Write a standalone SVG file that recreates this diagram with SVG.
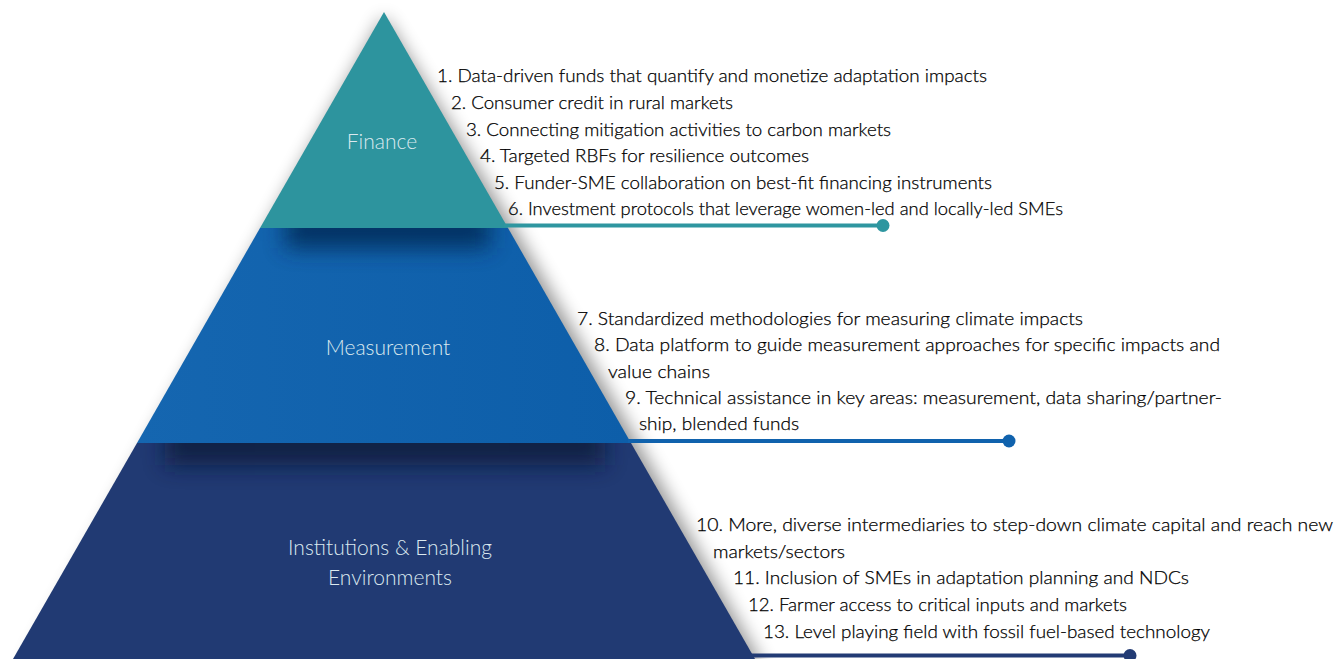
<svg xmlns="http://www.w3.org/2000/svg" width="1334" height="659" viewBox="0 0 1334 659">
<defs>
<style>
.item{font-family:Lato,"Liberation Sans",sans-serif;font-weight:300;font-size:18px;fill:#000000;stroke:#000000;stroke-width:0.25px;}
.lbl{font-family:Lato,"Liberation Sans",sans-serif;font-weight:300;font-size:21px;fill:#dbe9ef;text-anchor:middle;}
</style>
<filter id="sh" x="-20%" y="-20%" width="140%" height="140%"><feGaussianBlur stdDeviation="9"/></filter>
<filter id="tsh" x="-50%" y="-100%" width="200%" height="400%"><feGaussianBlur stdDeviation="11"/></filter>
<clipPath id="cm"><polygon points="260,228 508,228 631,443 137,443"/></clipPath>
<clipPath id="cn"><polygon points="137,443 631,443 755,659 13,659"/></clipPath>
<linearGradient id="gm" x1="0" y1="0" x2="1" y2="0"><stop offset="0" stop-color="#1566b0"/><stop offset="1" stop-color="#0d5ea9"/></linearGradient>
</defs>
<rect width="1334" height="659" fill="#ffffff"/>
<polygon points="384,16 514,228 638,443 764,668 24,668" fill="#000" opacity="0.42" filter="url(#sh)"/>
<g id="tier-institutions">
<polygon points="137,443 631,443 755,659 13,659" fill="#213a73"/>
<g clip-path="url(#cn)"><rect x="165" y="425" width="440" height="40" fill="#101c3c" opacity="0.85" filter="url(#tsh)"/></g>
<text class="lbl" x="390" y="555">Institutions &amp; Enabling</text>
<text class="lbl" x="390" y="585">Environments</text>
</g>
<g id="tier-measurement">
<polygon points="260,228 508,228 631,443 137,443" fill="url(#gm)"/>
<g clip-path="url(#cm)"><rect x="285" y="212" width="205" height="36" fill="#062a55" opacity="0.85" filter="url(#tsh)"/></g>
<text class="lbl" x="388" y="355">Measurement</text>
</g>
<g id="tier-finance">
<polygon points="384,12 508,228 260,228" fill="#2d949e"/>
<text class="lbl" x="382" y="149">Finance</text>
</g>
<g id="connectors">
<line x1="504" y1="225.5" x2="883" y2="225.5" stroke="#2e96a0" stroke-width="4"/>
<circle cx="883" cy="225.5" r="6.5" fill="#2e96a0"/>
<line x1="628" y1="441" x2="1009" y2="441" stroke="#1062ad" stroke-width="4"/>
<circle cx="1009" cy="441" r="6.5" fill="#1062ad"/>
<line x1="750" y1="655.5" x2="1130" y2="655.5" stroke="#223b74" stroke-width="4"/>
<circle cx="1130" cy="655.5" r="6.5" fill="#223b74"/>
</g>
<g id="finance-items">
<text class="item" x="437" y="82" textLength="550" lengthAdjust="spacingAndGlyphs">1. Data-driven funds that quantify and monetize adaptation impacts</text>
<text class="item" x="451" y="109" textLength="282" lengthAdjust="spacingAndGlyphs">2. Consumer credit in rural markets</text>
<text class="item" x="466" y="136" textLength="425" lengthAdjust="spacingAndGlyphs">3. Connecting mitigation activities to carbon markets</text>
<text class="item" x="480" y="162" textLength="329" lengthAdjust="spacingAndGlyphs">4. Targeted RBFs for resilience outcomes</text>
<text class="item" x="494" y="189" textLength="498" lengthAdjust="spacingAndGlyphs">5. Funder-SME collaboration on best-fit financing instruments</text>
<text class="item" x="508" y="215" textLength="555" lengthAdjust="spacingAndGlyphs">6. Investment protocols that leverage women-led and locally-led SMEs</text>
</g>
<g id="measurement-items">
<text class="item" x="577" y="325" textLength="506" lengthAdjust="spacingAndGlyphs">7. Standardized methodologies for measuring climate impacts</text>
<text class="item" x="594" y="351" textLength="626" lengthAdjust="spacingAndGlyphs">8. Data platform to guide measurement approaches for specific impacts and</text>
<text class="item" x="608" y="378" textLength="102" lengthAdjust="spacingAndGlyphs">value chains</text>
<text class="item" x="625" y="404" textLength="597" lengthAdjust="spacingAndGlyphs">9. Technical assistance in key areas: measurement, data sharing/partner-</text>
<text class="item" x="639" y="430" textLength="160" lengthAdjust="spacingAndGlyphs">ship, blended funds</text>
</g>
<g id="institutions-items">
<text class="item" x="696" y="531" textLength="637" lengthAdjust="spacingAndGlyphs">10. More, diverse intermediaries to step-down climate capital and reach new</text>
<text class="item" x="713" y="558" textLength="132" lengthAdjust="spacingAndGlyphs">markets/sectors</text>
<text class="item" x="733" y="584" textLength="456" lengthAdjust="spacingAndGlyphs">11. Inclusion of SMEs in adaptation planning and NDCs</text>
<text class="item" x="748" y="611" textLength="379" lengthAdjust="spacingAndGlyphs">12. Farmer access to critical inputs and markets</text>
<text class="item" x="763" y="638" textLength="447" lengthAdjust="spacingAndGlyphs">13. Level playing field with fossil fuel-based technology</text>
</g>
</svg>
